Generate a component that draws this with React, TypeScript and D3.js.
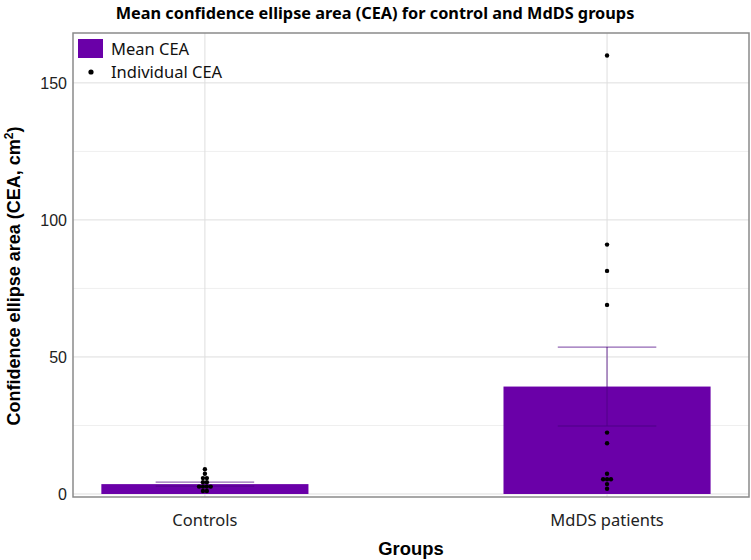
import { scaleLinear } from "d3";

const groups = ["Controls", "MdDS patients"];
const meanCEA = [3.6, 39.2];
const seCEA = [0.7, 14.4];
const controlsCEA = [9.0, 7.4, 5.8, 5.8, 4.3, 4.3, 2.7, 2.7, 2.7, 2.7, 1.1, 1.1];
const mddsCEA = [160, 91, 81.4, 69, 22.4, 18.5, 7.4, 5.4, 5.4, 5.4, 3.6, 1.9];
const individual = [controlsCEA, mddsCEA];
const yTicks = [0, 50, 100, 150];
const yMinor = [25, 75, 125];

const W = 751;
const H = 560;
const M = { left: 73, right: 749, top: 33, bottom: 497 };
const purple = "#6a00a8";

export default function App() {
  const x = scaleLinear().domain([0.672, 2.353]).range([M.left, M.right]);
  const y = scaleLinear().domain([-1.1, 168.2]).range([M.bottom, M.top]);
  const barW = x(1.515) - x(1);
  const capW = x(1.245) - x(1);
  const dotStep = 3.9;

  const dots = individual.flatMap((vals, gi) => {
    // dotplot style: equal values sit side by side in one row
    const rows = new Map<number, number[]>();
    vals.forEach((v) => {
      const k = Math.round(v * 10);
      rows.set(k, [...(rows.get(k) ?? []), v]);
    });
    return [...rows.values()].flatMap((row) =>
      row.map((v, j) => ({
        cx: x(gi + 1) + (j - (row.length - 1) / 2) * dotStep,
        cy: y(v),
      }))
    );
  });

  return (
    <svg width={W} height={H} style={{ position: "absolute", left: 0, top: 0 }}>
      <rect width={W} height={H} fill="white" />
      {yMinor.map((t) => (
        <line key={"m" + t} x1={M.left} x2={M.right} y1={y(t)} y2={y(t)} stroke="#efefef" />
      ))}
      {yTicks.map((t) => (
        <line key={"g" + t} x1={M.left} x2={M.right} y1={y(t)} y2={y(t)} stroke="#dedede" />
      ))}
      {groups.map((g, i) => (
        <line key={"x" + g} x1={x(i + 1)} x2={x(i + 1)} y1={M.top} y2={M.bottom} stroke="#dedede" />
      ))}
      {meanCEA.map((m, i) => (
        <rect
          key={"b" + i}
          x={x(i + 1) - barW / 2}
          width={barW}
          y={y(m)}
          height={y(0) - y(m)}
          fill={purple}
        />
      ))}
      {meanCEA.map((m, i) => {
        const cx = x(i + 1);
        const lo = y(m - seCEA[i]);
        const hi = y(m + seCEA[i]);
        return (
          <g key={"e" + i} stroke="#4b0082" strokeOpacity={0.6} strokeWidth={1.3}>
            <line x1={cx} x2={cx} y1={lo} y2={hi} />
            <line x1={cx - capW / 2} x2={cx + capW / 2} y1={hi} y2={hi} />
            <line x1={cx - capW / 2} x2={cx + capW / 2} y1={lo} y2={lo} />
          </g>
        );
      })}
      {dots.map((d, i) => (
        <circle key={"d" + i} cx={d.cx} cy={d.cy} r={2.2} fill="black" />
      ))}
      <rect
        x={M.left}
        y={M.top}
        width={M.right - M.left}
        height={M.bottom - M.top}
        fill="none"
        stroke="#8a8a8a"
        strokeWidth={1.5}
      />
      {yTicks.map((t) => (
        <text
          key={"t" + t}
          x={67}
          y={y(t)}
          dy="0.36em"
          textAnchor="end"
          fontFamily="Liberation Sans, Arial, sans-serif"
          fontSize={16}
          fill="#222"
        >
          {t}
        </text>
      ))}
      {groups.map((g, i) => (
        <text
          key={"l" + g}
          x={x(i + 1)}
          y={526}
          textAnchor="middle"
          fontFamily="Noto Sans, sans-serif"
          fontSize={16.5}
          fill="#222"
        >
          {g}
        </text>
      ))}
      <text
        x={375}
        y={19}
        textAnchor="middle"
        fontFamily="Noto Sans, sans-serif"
        fontWeight="bold"
        fontSize={16.3}
      >
        Mean confidence ellipse area (CEA) for control and MdDS groups
      </text>
      <text
        x={(M.left + M.right) / 2}
        y={555}
        textAnchor="middle"
        fontFamily="Liberation Sans, Arial, sans-serif"
        fontWeight="bold"
        fontSize={18.4}
      >
        Groups
      </text>
      <text
        transform={`translate(20,276) rotate(-90)`}
        textAnchor="middle"
        fontFamily="Liberation Sans, Arial, sans-serif"
        fontWeight="bold"
        fontSize={18}
      >
        Confidence ellipse area (CEA, cm<tspan dy="-7" fontSize={12}>2</tspan>
        <tspan dy="7">)</tspan>
      </text>
      <g fontFamily="Noto Sans, sans-serif" fontSize={16.5} fill="#111">
        <rect x={78} y={39} width={25} height={19} fill={purple} />
        <text x={111} y={49} dy="0.35em">Mean CEA</text>
        <circle cx={91} cy={72} r={2.6} fill="black" />
        <text x={111} y={72} dy="0.35em">Individual CEA</text>
      </g>
    </svg>
  );
}
